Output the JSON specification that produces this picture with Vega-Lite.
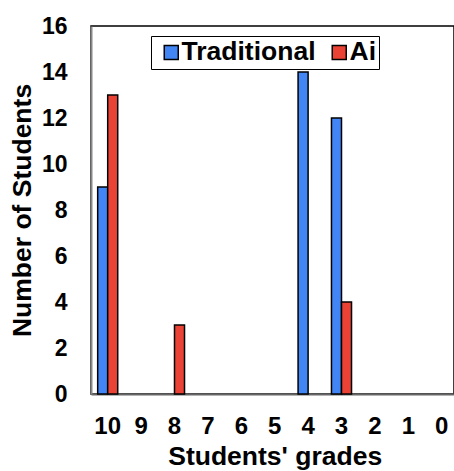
{
  "$schema": "https://vega.github.io/schema/vega-lite/v6.json",
  "autosize": "none",
  "width": 363,
  "height": 368,
  "padding": {"left": 91, "top": 26, "right": 0, "bottom": 77},
  "background": "white",
  "config": {
    "font": "Liberation Sans",
    "view": {"stroke": "#000000", "strokeWidth": 1.5}
  },
  "data": {
    "values": [
      {"grade": "10", "method": "Traditional", "count": 9},
      {"grade": "10", "method": "Ai", "count": 13},
      {"grade": "8", "method": "Ai", "count": 3},
      {"grade": "4", "method": "Traditional", "count": 14},
      {"grade": "3", "method": "Traditional", "count": 12},
      {"grade": "3", "method": "Ai", "count": 4}
    ]
  },
  "mark": {"type": "bar", "stroke": "#000000", "strokeWidth": 1.5},
  "encoding": {
    "x": {
      "field": "grade",
      "type": "nominal",
      "scale": {
        "domain": ["10", "9", "8", "7", "6", "5", "4", "3", "2", "1", "0"],
        "range": [0, 367.4],
        "paddingInner": 0.4,
        "paddingOuter": 0.2
      },
      "axis": {
        "title": "Students' grades",
        "titleFont": "Liberation Sans",
        "titleFontSize": 26.5,
        "titleFontWeight": "bold",
        "titleColor": "#000000",
        "titlePadding": 5,
        "labelFont": "Liberation Sans",
        "labelFontSize": 24,
        "labelFontWeight": "bold",
        "labelColor": "#000000",
        "labelAngle": 0,
        "labelPadding": 20,
        "ticks": false,
        "domainColor": "#666666",
        "domainWidth": 2
      }
    },
    "xOffset": {
      "field": "method",
      "type": "nominal",
      "sort": ["Traditional", "Ai"]
    },
    "y": {
      "field": "count",
      "type": "quantitative",
      "scale": {"domain": [0, 16], "nice": false},
      "axis": {
        "title": "Number of Students",
        "titleFont": "Liberation Sans",
        "titleFontSize": 26.5,
        "titleFontWeight": "bold",
        "titleColor": "#000000",
        "titlePadding": 5,
        "values": [0, 2, 4, 6, 8, 10, 12, 14, 16],
        "labelFont": "Liberation Sans",
        "labelFontSize": 23,
        "labelFontWeight": "bold",
        "labelColor": "#000000",
        "labelPadding": 24,
        "ticks": false,
        "grid": false,
        "domainColor": "#888888",
        "domainWidth": 2
      }
    },
    "color": {
      "field": "method",
      "type": "nominal",
      "sort": ["Traditional", "Ai"],
      "scale": {"domain": ["Traditional", "Ai"], "range": ["#4285F4", "#EA4335"]},
      "legend": {
        "title": null,
        "orient": "none",
        "legendX": 60,
        "legendY": 10,
        "direction": "horizontal",
        "fillColor": "#ffffff",
        "strokeColor": "#000000",
        "padding": 3,
        "symbolType": "square",
        "symbolSize": 196,
        "symbolOffset": 4,
        "symbolStrokeColor": "#000000",
        "symbolStrokeWidth": 1.5,
        "labelFont": "Liberation Sans",
        "labelFontSize": 26.5,
        "labelFontWeight": "bold",
        "labelColor": "#000000",
        "labelOffset": -3,
        "columnPadding": 6
      }
    }
  }
}
